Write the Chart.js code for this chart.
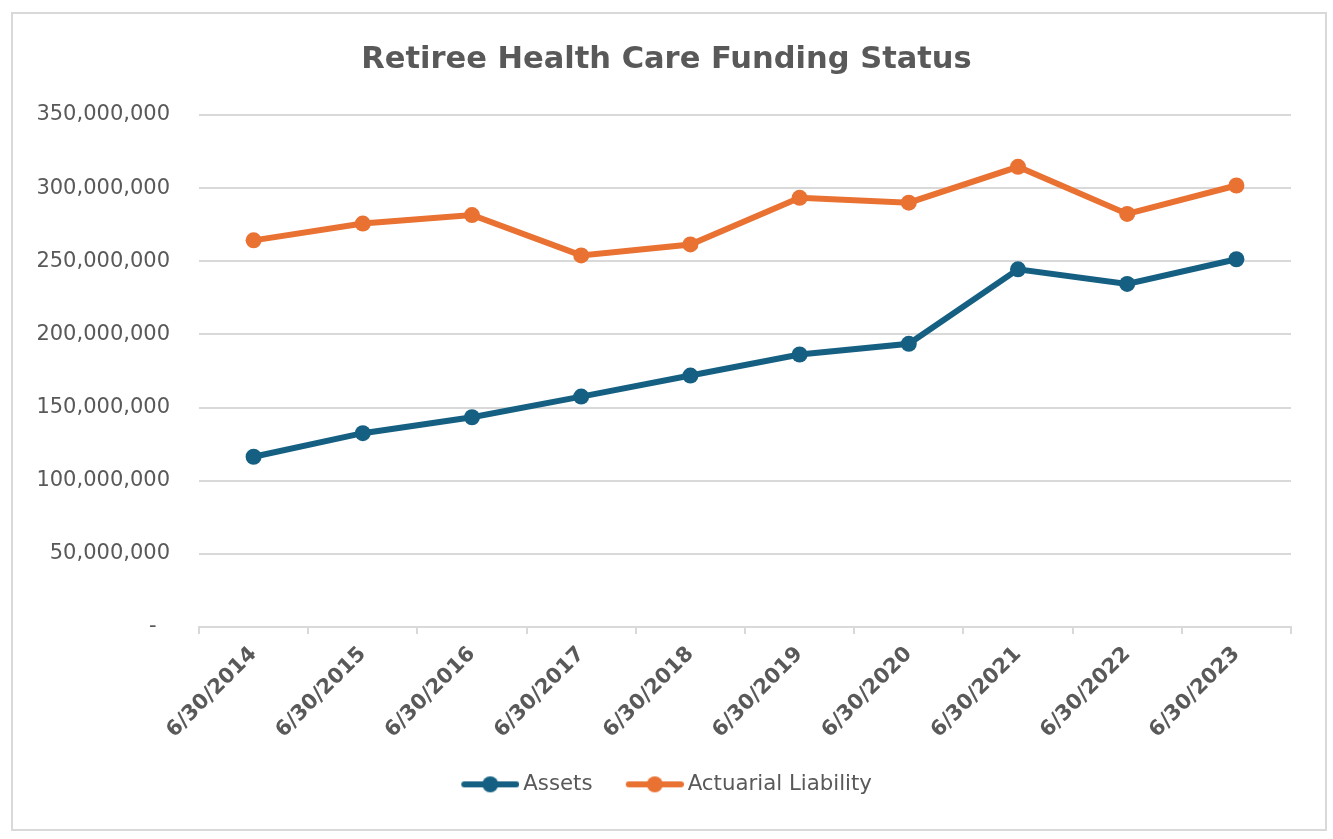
<!DOCTYPE html>
<html>
<head>
<meta charset="utf-8">
<style>
  html, body { margin: 0; padding: 0; background: #ffffff; }
  #wrap { position: relative; width: 1333px; height: 839px; }
</style>
<script src="https://cdn.jsdelivr.net/npm/chart.js@4/dist/chart.umd.min.js"></script>
</head>
<body>
<div id="wrap"><canvas id="c" width="1333" height="839"></canvas></div>
<script>
const categories = ['6/30/2014','6/30/2015','6/30/2016','6/30/2017','6/30/2018','6/30/2019','6/30/2020','6/30/2021','6/30/2022','6/30/2023'];
const assets = [116400000, 132500000, 143400000, 157500000, 171900000, 186300000, 193600000, 244500000, 234500000, 251400000];
const actuarialLiability = [264300000, 275800000, 281600000, 254000000, 261500000, 293400000, 290100000, 314600000, 282400000, 301800000];
const seriesNames = ['Assets', 'Actuarial Liability'];
const yTickMax = 350000000;
const yTickStep = 50000000;

const BLUE = '#156082';
const ORANGE = '#E97132';
const TEXT = '#595959';
const GRID = '#D9D9D9';

function legendSwatch(color) {
  const cv = document.createElement('canvas');
  cv.width = 65; cv.height = 20;
  const g = cv.getContext('2d');
  g.strokeStyle = color; g.lineWidth = 6; g.lineCap = 'round';
  g.beginPath(); g.moveTo(10, 10); g.lineTo(62, 10); g.stroke();
  g.fillStyle = color;
  g.beginPath(); g.arc(36, 10, 8, 0, Math.PI * 2); g.fill();
  return cv;
}
const swatches = [legendSwatch(BLUE), legendSwatch(ORANGE)];

const frame = {
  id: 'frame',
  beforeDraw(chart) {
    const ctx = chart.ctx;
    ctx.save();
    ctx.fillStyle = '#ffffff';
    ctx.fillRect(0, 0, chart.width, chart.height);
    ctx.strokeStyle = GRID;
    ctx.lineWidth = 2;
    ctx.strokeRect(12, 13, 1314, 817);
    ctx.restore();
  }
};

new Chart(document.getElementById('c'), {
  type: 'line',
  data: {
    labels: categories,
    datasets: [
      { label: seriesNames[0], data: assets, borderColor: BLUE, backgroundColor: BLUE, yAxisID: 'y',
        borderWidth: 6, pointRadius: 8, pointHoverRadius: 8, pointBorderWidth: 0, pointBackgroundColor: BLUE, tension: 0 },
      { label: seriesNames[1], data: actuarialLiability, borderColor: ORANGE, backgroundColor: ORANGE, yAxisID: 'y',
        borderWidth: 6, pointRadius: 8, pointHoverRadius: 8, pointBorderWidth: 0, pointBackgroundColor: ORANGE, tension: 0 }
    ]
  },
  options: {
    responsive: false,
    animation: false,
    devicePixelRatio: 1,
    layout: { padding: { left: 0, right: 0, top: 0, bottom: 34 } },
    plugins: {
      title: {
        display: true,
        text: 'Retiree Health Care Funding Status',
        color: TEXT,
        font: { family: 'DejaVu Sans', size: 30.5, weight: 'bold' },
        padding: { top: 41.7, bottom: 36.7 }
      },
      legend: {
        position: 'bottom',
        labels: {
          color: TEXT,
          font: { family: 'DejaVu Sans', size: 21.3 },
          usePointStyle: true,
          pointStyleWidth: 51.5,
          padding: 33,
          generateLabels(chart) {
            const items = Chart.defaults.plugins.legend.labels.generateLabels(chart);
            items.forEach((it, i) => { it.pointStyle = swatches[i]; });
            return items;
          }
        }
      },
      tooltip: { enabled: false }
    },
    scales: {
      x: {
        offset: true,
        grid: { display: true, offset: true, drawOnChartArea: false, drawTicks: true, tickLength: 7, color: GRID, lineWidth: 2 },
        border: { display: true, color: GRID, width: 2 },
        ticks: {
          color: TEXT,
          font: { family: 'DejaVu Sans', size: 21, weight: 'bold' },
          minRotation: 45, maxRotation: 45, padding: 8, autoSkip: false
        },
        afterFit(scale) { scale.height = 113.7; }
      },
      y: {
        position: 'left',
        min: 0, max: yTickMax,
        grid: { color: GRID, lineWidth: 2, drawTicks: false },
        border: { display: false },
        ticks: {
          stepSize: yTickStep,
          color: TEXT,
          font: { family: 'DejaVu Sans', size: 21 },
          padding: 29,
          callback(v) { return v === 0 ? '-  ' : v.toLocaleString('en-US'); }
        },
        afterFit(scale) { scale.width = 199; }
      },
      yRightSpace: {
        type: 'linear',
        position: 'right',
        display: true,
        grid: { display: false, drawTicks: false },
        border: { display: false },
        ticks: { display: false },
        afterFit(scale) { scale.width = 42; }
      }
    }
  },
  plugins: [frame]
});
</script>
</body>
</html>
